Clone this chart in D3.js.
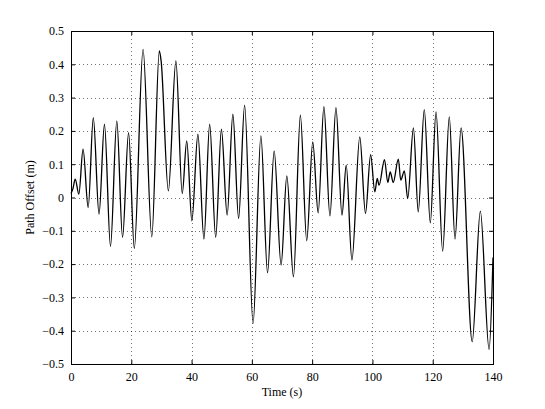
<!DOCTYPE html>
<html>
<head>
<meta charset="utf-8">
<script src="https://cdn.jsdelivr.net/npm/d3@7"></script>
<style>
    body { margin: 0; background: #fff; }
    text { font-family: "Liberation Serif", "Times New Roman", serif; font-size: 12px; fill: #000; }
    .grid line { stroke: #000; stroke-opacity: 0.55; stroke-dasharray: 1,3; }
</style>
</head>
<body>
<script>
// extrema (time in s, offset in m)
var times = [0, 0.6, 1.4, 2.6, 4.0, 5.7, 7.4, 9.3, 11.1, 13.1, 15.2, 17.1, 19.1, 21.0,
    23.9, 26.8, 29.3, 29.9, 32.3, 34.8, 36.9, 38.4, 40.1, 42.1, 44.1, 46.0, 48.0, 49.9,
    51.8, 53.7, 55.6, 57.6, 60.4, 63.0, 65.2, 67.4, 69.7, 71.6, 73.8, 76.1, 78.2, 80.2,
    82.0, 83.9, 85.9, 87.9, 89.9, 91.3, 93.2, 95.8, 97.7, 99.4, 100.8, 101.6, 102.2, 104.0,
    105.1, 105.9, 106.9, 108.6, 109.4, 110.6, 111.7, 113.6, 115.2, 117.2, 119.2, 121.1,
    123.3, 125.5, 127.4, 129.4, 133.1, 135.8, 138.7, 140];
var offsets = [0.012, 0.025, 0.055, 0.01, 0.145, -0.03, 0.24, -0.05, 0.22, -0.147, 0.23, -0.12, 0.195, -0.153,
    0.445, -0.118, 0.44, 0.41, 0.02, 0.41, 0.012, 0.17, -0.07, 0.19, -0.125, 0.22, -0.12, 0.205,
    -0.053, 0.25, -0.063, 0.277, -0.378, 0.185, -0.226, 0.14, -0.203, 0.065, -0.238, 0.247, -0.13, 0.167,
    -0.046, 0.273, -0.055, 0.27, -0.053, 0.097, -0.188, 0.182, -0.048, 0.129, 0.017, 0.057, 0.037, 0.114,
    0.045, 0.077, 0.045, 0.115, 0.052, 0.08, -0.003, 0.209, -0.043, 0.264, -0.076, 0.257,
    -0.161, 0.242, -0.125, 0.209, -0.433, -0.041, -0.456, -0.18];
var xTicks = [0, 20, 40, 60, 80, 100, 120, 140];
var yTicks = [-0.5, -0.4, -0.3, -0.2, -0.1, 0, 0.1, 0.2, 0.3, 0.4, 0.5];

var width = 545, height = 409;
var pLeft = 71, pRight = 493, pTop = 31, pBottom = 364;
var serif = "'Liberation Serif', 'Times New Roman', serif";

var svg = d3.select("body").append("svg")
    .attr("width", width)
    .attr("height", height);

var x = d3.scaleLinear().domain([0, 140]).range([pLeft, pRight]);
var y = d3.scaleLinear().domain([-0.5, 0.5]).range([pBottom, pTop]);

// dotted grid
var grid = svg.append("g").attr("class", "grid");
grid.selectAll("line.gx")
    .data(xTicks.slice(1, -1))
    .enter().append("line")
    .attr("x1", function(d) { return Math.round(x(d)) + 0.5; })
    .attr("x2", function(d) { return Math.round(x(d)) + 0.5; })
    .attr("y1", pTop).attr("y2", pBottom);
grid.selectAll("line.gy")
    .data(yTicks.slice(1, -1))
    .enter().append("line")
    .attr("y1", function(d) { return Math.round(y(d)) + 0.5; })
    .attr("y2", function(d) { return Math.round(y(d)) + 0.5; })
    .attr("x1", pLeft).attr("x2", pRight);

// the signal
var pts = times.map(function(t, i) { return [t, offsets[i]]; });
var line = d3.line()
    .x(function(d) { return x(d[0]); })
    .y(function(d) { return y(d[1]); })
    .curve(d3.curveMonotoneX);
svg.append("path")
    .datum(pts)
    .attr("d", line)
    .attr("fill", "none")
    .attr("stroke", "#000")
    .attr("stroke-width", 1.3);

// axes, ticks pointing inward, on all four sides
var tl = 4;
function styleAxis(g) {
    g.select(".domain").remove();
    g.attr("font-family", serif).attr("font-size", 12);
    g.selectAll("text").style("font-family", serif).style("font-size", "12px");
}
svg.append("g")
    .attr("transform", "translate(0," + pBottom + ")")
    .call(d3.axisBottom(x).tickValues(xTicks).tickSizeInner(-tl).tickSizeOuter(0).tickPadding(8))
    .call(styleAxis);
svg.append("g")
    .attr("transform", "translate(" + pLeft + ",0)")
    .call(d3.axisLeft(y).tickValues(yTicks).tickSizeInner(-tl).tickSizeOuter(0).tickPadding(7)
        .tickFormat(function(d) { return d === 0 ? "0" : d3.format(".1f")(d); }))
    .call(styleAxis);
svg.append("g")
    .attr("transform", "translate(0," + pTop + ")")
    .call(d3.axisTop(x).tickValues(xTicks).tickSizeInner(-tl).tickSizeOuter(0).tickFormat(""))
    .call(styleAxis);
svg.append("g")
    .attr("transform", "translate(" + pRight + ",0)")
    .call(d3.axisRight(y).tickValues(yTicks).tickSizeInner(-tl).tickSizeOuter(0).tickFormat(""))
    .call(styleAxis);

svg.append("rect")
    .attr("x", pLeft + 0.5).attr("y", pTop + 0.5)
    .attr("width", pRight - pLeft).attr("height", pBottom - pTop)
    .attr("fill", "none")
    .attr("stroke", "#000")
    .attr("stroke-width", 1);

svg.append("text")
    .attr("x", (pLeft + pRight) / 2)
    .attr("y", 396)
    .attr("text-anchor", "middle")
    .style("font-family", serif)
    .text("Time (s)");

svg.append("text")
    .attr("transform", "translate(34," + ((pTop + pBottom) / 2) + ") rotate(-90)")
    .attr("text-anchor", "middle")
    .style("font-family", serif)
    .text("Path Offset (m)");
</script>
</body>
</html>
